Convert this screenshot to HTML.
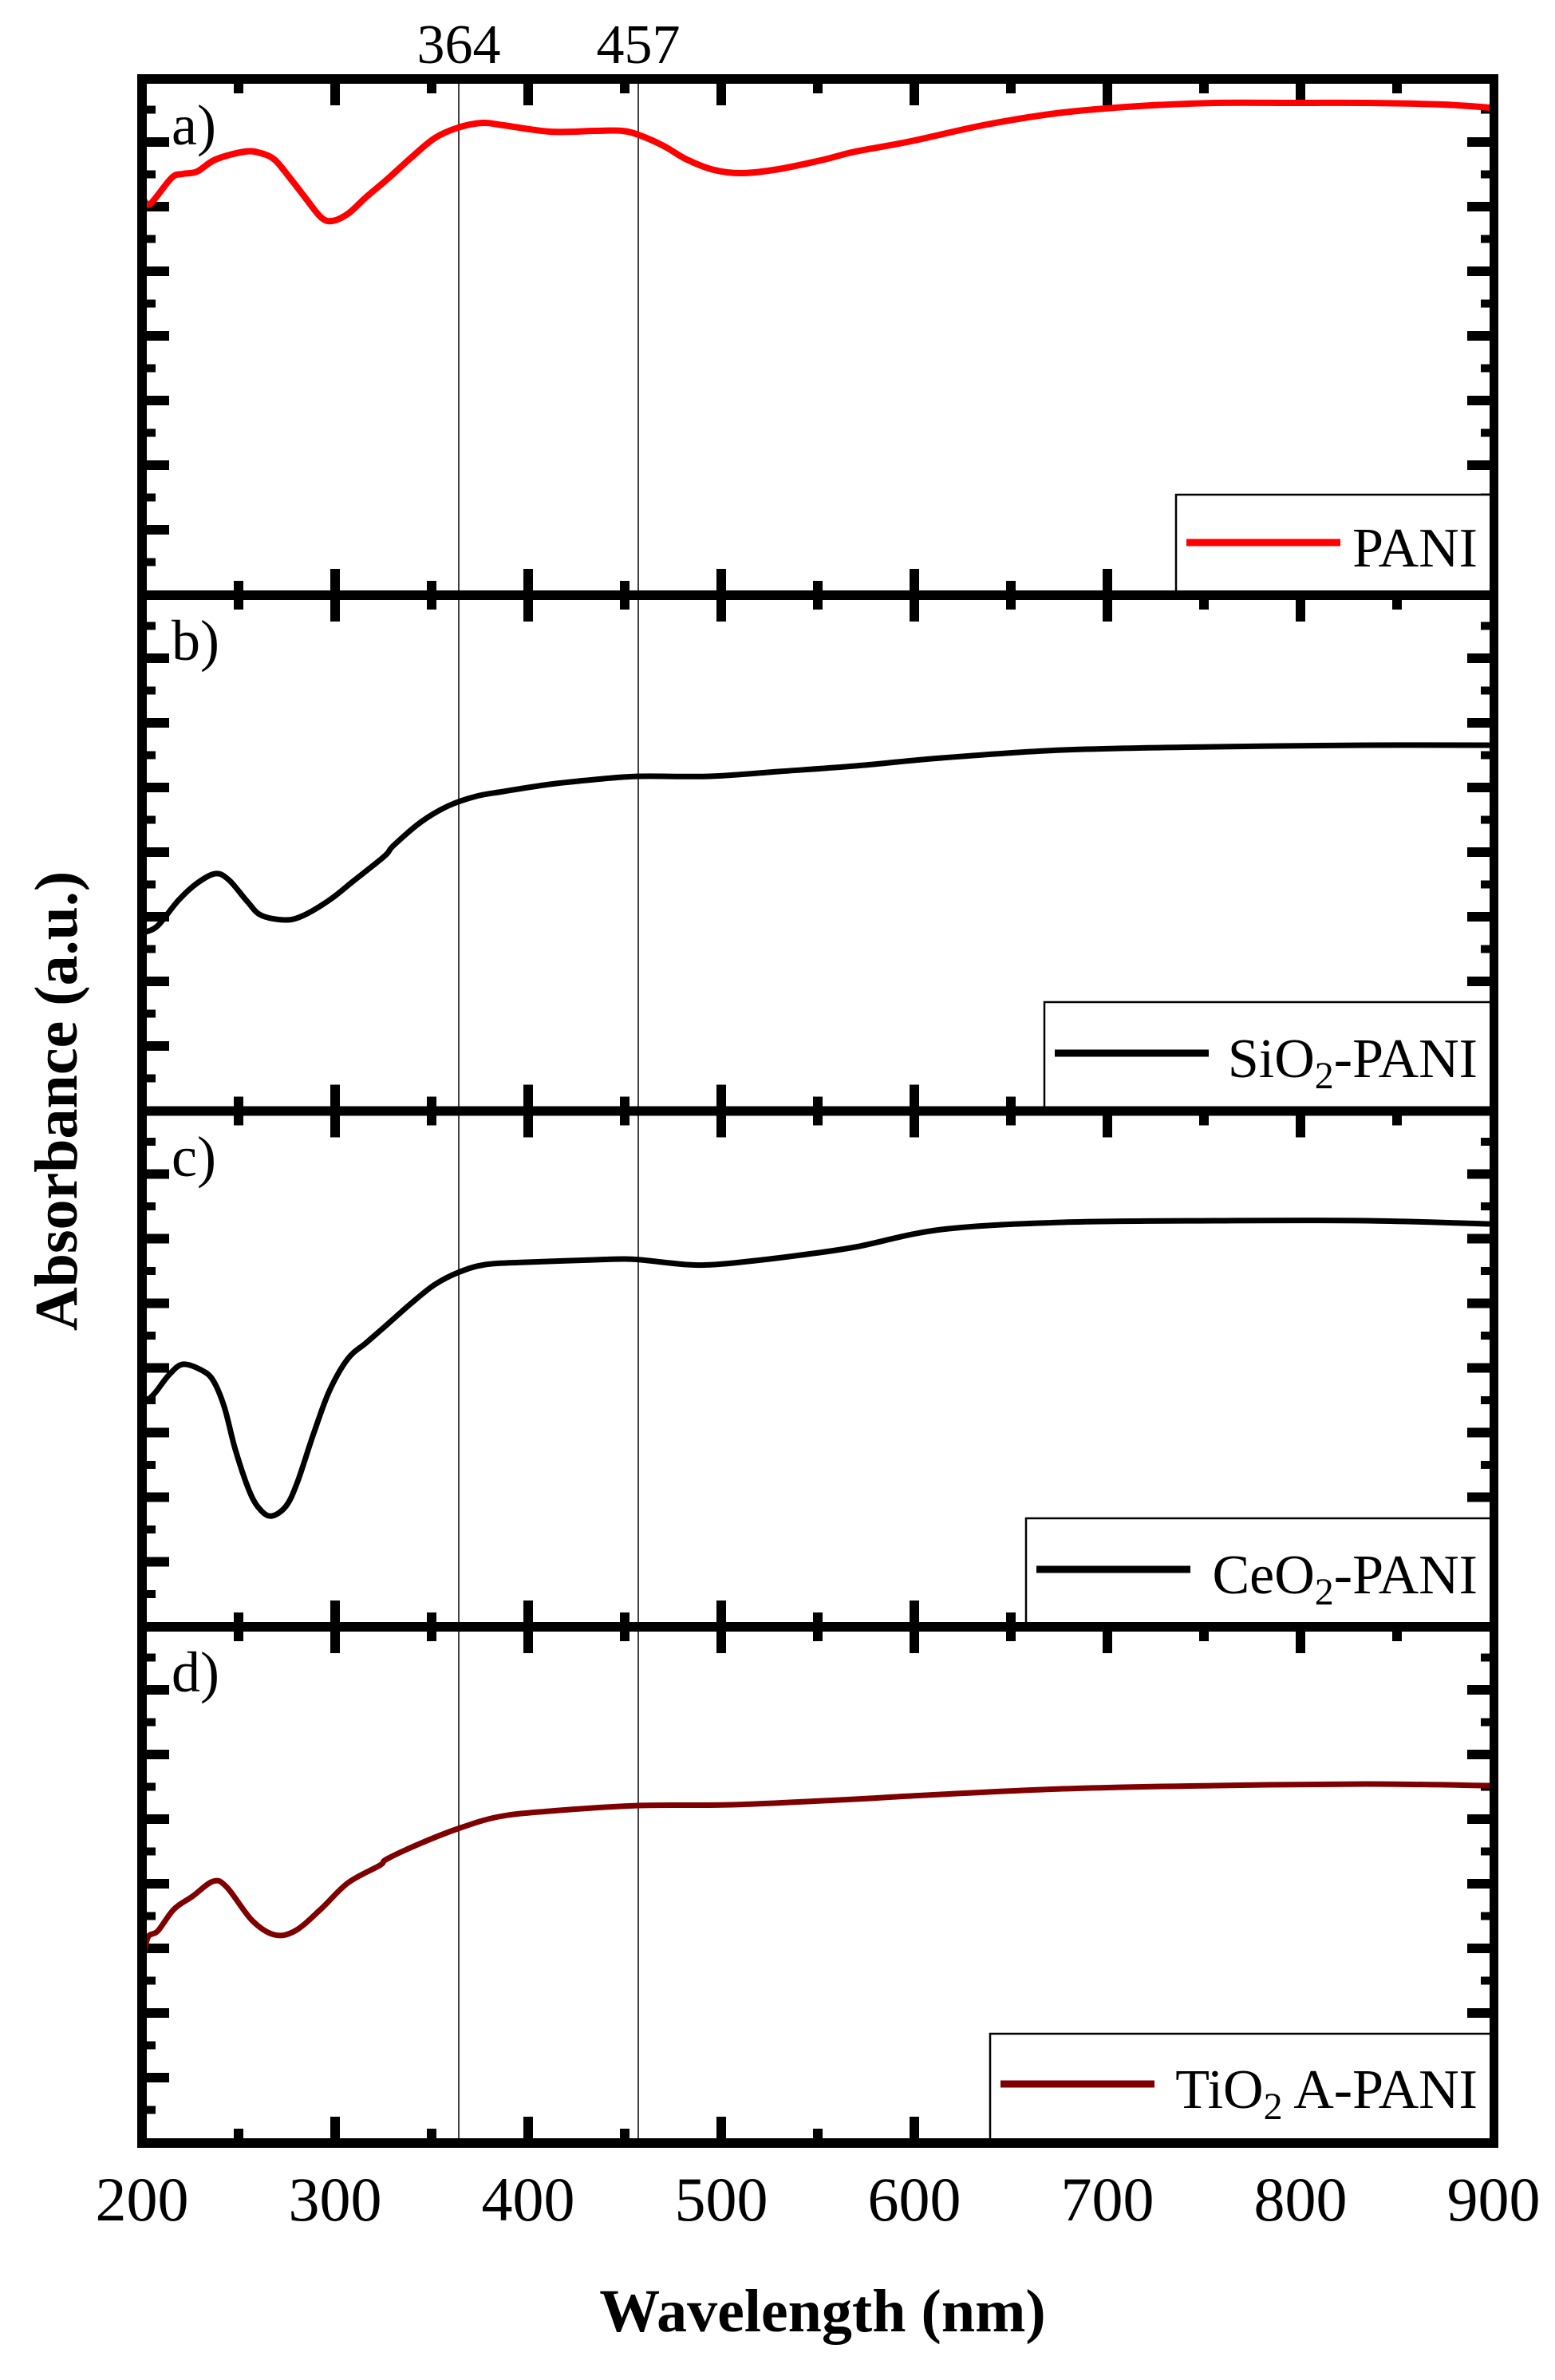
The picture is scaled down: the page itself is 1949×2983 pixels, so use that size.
<!DOCTYPE html>
<html><head><meta charset="utf-8"><style>
html,body{margin:0;padding:0;background:#fff}
svg{display:block}
text{font-family:"Liberation Serif","Times New Roman",serif;fill:#000}
</style></head><body>
<svg id="s" width="1949" height="2983" viewBox="0 0 1949 2983" xmlns="http://www.w3.org/2000/svg">
<g id="ticks" fill="#000"></g>
<line x1="575" y1="99" x2="575" y2="2686" stroke="#000" stroke-width="1.5"/>
<line x1="800" y1="99" x2="800" y2="2686" stroke="#000" stroke-width="1.5"/>
<g id="curves" fill="none" stroke-linejoin="round" stroke-linecap="round"></g>
<!-- legends -->
<rect x="1474" y="620" width="396" height="126" fill="#fff" stroke="#000" stroke-width="2.5"/>
<line x1="1487" y1="680" x2="1680" y2="680" stroke="#ff0000" stroke-width="9"/>
<text x="1852" y="710" font-size="70" text-anchor="end">PANI</text>
<rect x="1309" y="1256" width="561" height="134" fill="#fff" stroke="#000" stroke-width="2.5"/>
<line x1="1322" y1="1320" x2="1515" y2="1320" stroke="#000" stroke-width="9"/>
<text x="1852" y="1350" font-size="70" text-anchor="end">SiO<tspan font-size="48" dy="14">2</tspan><tspan dy="-14">-PANI</tspan></text>
<rect x="1286" y="1903" width="584" height="134" fill="#fff" stroke="#000" stroke-width="2.5"/>
<line x1="1299" y1="1967" x2="1492" y2="1967" stroke="#000" stroke-width="9"/>
<text x="1852" y="1997" font-size="70" text-anchor="end">CeO<tspan font-size="48" dy="14">2</tspan><tspan dy="-14">-PANI</tspan></text>
<rect x="1241" y="2549" width="629" height="134" fill="#fff" stroke="#000" stroke-width="2.5"/>
<line x1="1254" y1="2612" x2="1447" y2="2612" stroke="#7f0000" stroke-width="9"/>
<text x="1852" y="2642" font-size="70" text-anchor="end">TiO<tspan font-size="48" dy="14">2</tspan><tspan dy="-14"> A-PANI</tspan></text>
<g id="frames" fill="#000"></g>
<text x="215" y="181" font-size="72">a)</text>
<text x="215" y="827" font-size="72">b)</text>
<text x="215" y="1474" font-size="72">c)</text>
<text x="215" y="2120" font-size="72">d)</text>
<text x="575" y="79" font-size="70" text-anchor="middle">364</text>
<text x="800" y="79" font-size="70" text-anchor="middle">457</text>
<g font-size="78" text-anchor="middle">
<text x="178" y="2783">200</text><text x="420" y="2783">300</text><text x="662" y="2783">400</text><text x="904" y="2783">500</text><text x="1146" y="2783">600</text><text x="1388" y="2783">700</text><text x="1630" y="2783">800</text><text x="1872" y="2783">900</text>
</g>
<text x="1031" y="2922" font-size="76" font-weight="bold" text-anchor="middle">Wavelength (nm)</text>
<text transform="translate(96,1380) rotate(-90)" font-size="76" font-weight="bold" text-anchor="middle">Absorbance (a.u.)</text>
</svg>
<script>
var NS="http://www.w3.org/2000/svg";
function r(g,x,y,w,h){var e=document.createElementNS(NS,"rect");e.setAttribute("x",x);e.setAttribute("y",y);e.setAttribute("width",w);e.setAttribute("height",h);document.getElementById(g).appendChild(e);}
var L=172,R=1878,tops=[99,746,1392.5,2039,2686];
r("frames",L,tops[0]-6,R-L,12);
for(var i=1;i<5;i++) r("frames",L,tops[i]-6,R-L,12);
r("frames",L,93,12,2599);r("frames",R-11,93,11,2599);
var xs=2.42;
for(var p=0;p<4;p++){
 var t=tops[p],b=tops[p+1];
 for(var w=250;w<900;w+=50){
  var x=178+(w-200)*xs, maj=(w%100==0);
  var len=maj?27:12;
  r("ticks",x-6,t+6,12,len);
  r("ticks",x-6,b-6-len,12,len);
 }
 for(var o=38.5;o<640;o+=40.5){
  var k=Math.round((o-38.5)/40.5), maj=(k%2==1);
  var y=t+o, len=maj?28:11, h=maj?12:10;
  r("ticks",184,y-h/2,len,h);
  r("ticks",R-11-len,y-h/2,len,h);
 }
}
function curve(pts,col,sw){
 var d="M"+pts[0][0]+","+pts[0][1];
 for(var i=0;i<pts.length-1;i++){
  var p0=pts[Math.max(0,i-1)],p1=pts[i],p2=pts[i+1],p3=pts[Math.min(pts.length-1,i+2)];
  var c1x=p1[0]+(p2[0]-p0[0])/6,c1y=p1[1]+(p2[1]-p0[1])/6,c2x=p2[0]-(p3[0]-p1[0])/6,c2y=p2[1]-(p3[1]-p1[1])/6;
  d+=" C"+c1x.toFixed(1)+","+c1y.toFixed(1)+" "+c2x.toFixed(1)+","+c2y.toFixed(1)+" "+p2[0]+","+p2[1];
 }
 var e=document.createElementNS(NS,"path");e.setAttribute("d",d);e.setAttribute("stroke",col);e.setAttribute("stroke-width",sw);
 document.getElementById("curves").appendChild(e);
}
curve([[181,252],[189,255],[215,223],[229,218],[247,215],[270,200],[307,190],[327,192],[344,200],[361,220],[382,247],[402,272],[416,277],[436,268],[459,247],[485,225],[516,197],[545,173],[574,160],[605,154],[631,157],[689,165],[746,164],[780,164],[803,170],[832,183],[861,200],[895,213],[930,217],[976,212],[1033,200],[1072,190],[1142,177],[1237,156],[1332,141],[1427,133],[1522,129],[1624,129],[1713,129],[1808,131],[1868,135]],"#ff0000",8);
curve([[183,1168],[198,1160],[224,1128],[247,1107],[270,1095],[287,1103],[310,1130],[327,1147],[356,1153],[379,1148],[413,1128],[442,1105],[482,1073],[493,1060],[528,1030],[562,1010],[597,998],[631,992],[689,983],[746,977],[800,973],[890,973],[976,967],[1072,960],[1180,950],[1332,940],[1522,936],[1713,934],[1866,934]],"#000",7);
curve([[183,1757],[195,1745],[212,1723],[229,1710],[252,1717],[267,1730],[281,1763],[295,1817],[313,1870],[327,1893],[341,1900],[359,1887],[373,1857],[393,1797],[413,1743],[436,1703],[459,1683],[482,1663],[516,1633],[545,1610],[574,1595],[608,1585],[660,1582],[746,1579],[780,1578],[803,1579],[861,1585],[895,1585],[947,1580],[1004,1573],[1072,1563],[1180,1541],[1332,1532],[1522,1530],[1713,1530],[1866,1534]],"#000",7);
curve([[181,2447],[186,2427],[198,2420],[218,2393],[241,2377],[267,2358],[284,2365],[316,2407],[344,2425],[370,2420],[402,2393],[436,2360],[476,2338],[485,2330],[528,2310],[574,2292],[625,2277],[689,2270],[800,2263],[918,2262],[1072,2255],[1142,2251],[1332,2242],[1522,2238],[1713,2236],[1866,2238]],"#7f0000",7);
</script>
</body></html>
